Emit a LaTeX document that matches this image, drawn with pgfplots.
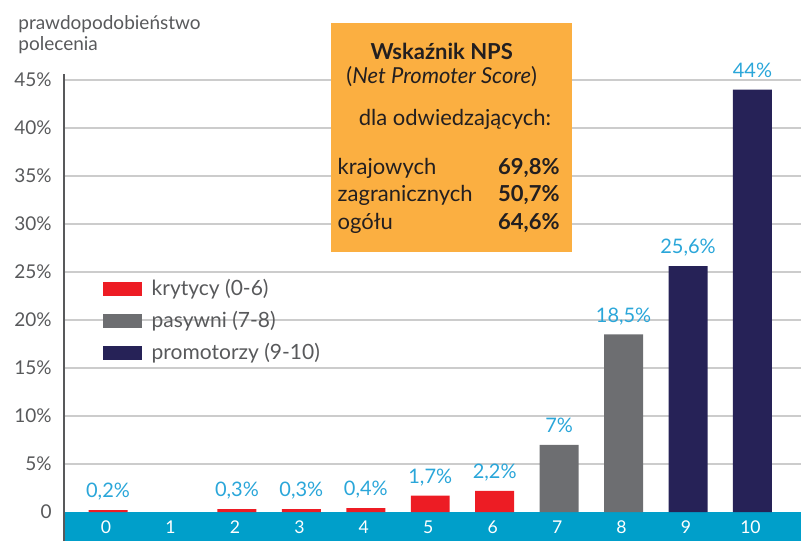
\documentclass[border=0pt]{standalone}
\usepackage{fontspec}
\setmainfont{Lato}
\usepackage{pgfplots}
\pgfplotsset{compat=1.18}
\definecolor{critred}{HTML}{ED1C24}
\definecolor{passgray}{HTML}{6D6E71}
\definecolor{promnavy}{HTML}{262257}
\definecolor{bandblue}{HTML}{009FCA}
\definecolor{labelblue}{HTML}{2AA6D9}
\definecolor{boxorange}{HTML}{FBAF41}
\definecolor{textgray}{HTML}{58595B}
\definecolor{gridgray}{HTML}{CCCCCC}
\definecolor{darktext}{HTML}{231F20}
\newcommand{\lstrut}{\rule[-3pt]{0pt}{11pt}}
\begin{document}
\begin{tikzpicture}
\path[use as bounding box] (0,0) rectangle (400.5pt,-270.5pt);
\fill[bandblue] (32pt,-270.5pt) rectangle (400.5pt,-256pt);
\begin{axis}[
  at={(32pt,-270.5pt)}, anchor=south west,
  scale only axis, width=368.5pt, height=233.5pt,
  xmin=-0.683, xmax=10.753, ymin=-3.021, ymax=45.625,
  ybar, bar width=0.605, bar shift=0pt,
  axis line style={draw=none},
  major tick length=0pt,
  ytick={5,10,...,45},
  yticklabels={5\%,10\%,15\%,20\%,25\%,30\%,35\%,40\%,45\%},
  extra y ticks={0}, extra y tick labels={0},
  extra y tick style={grid=none},
  ymajorgrids, grid style={draw=gridgray, line width=0.6pt},
  yticklabel style={font=\fontsize{9.5}{11}\selectfont, text=textgray, xshift=-2.7pt},
  xtick={0,1,2,3,4,5,6,7,8,9,10},
  xticklabels={0,1,2,3,4,5,6,7,8,9,10},
  xticklabel style={font=\fontsize{8.8}{10}\selectfont, text=white, anchor=center, yshift=6.75pt, xshift=-1pt},
  clip=false,
  nodes near coords,
  point meta=explicit symbolic,
  every node near coord/.append style={font=\fontsize{10}{12}\selectfont, text=labelblue, inner sep=0pt, text depth=0pt, yshift=6pt},
  every axis plot/.append style={legend image code/.code={\fill[#1] (0pt,-3.5pt) rectangle (19.5pt,3.5pt);}},
  legend style={draw=none, fill=none, at={(axis description cs:0.05292,0.5696)}, anchor=north west,
    inner sep=0pt, outer sep=0pt, font=\fontsize{10.5}{12}\selectfont, text=textgray,
    row sep=2.5pt, column sep=2.85pt},
  legend cell align=left,
]
\addplot[fill=critred, draw=none] coordinates {(0,0.2) [0,2\%] (2,0.3) [0,3\%] (3,0.3) [0,3\%] (4,0.4) [0,4\%] (5,1.7) [1,7\%] (6,2.2) [2,2\%]};
\addplot[fill=passgray, draw=none] coordinates {(7,7) [7\%] (8,18.5) [18,5\%]};
\addplot[fill=promnavy, draw=none] coordinates {(9,25.6) [25,6\%] (10,44) [44\%]};
\legend{\lstrut krytycy (0-6), \lstrut pasywni (7-8), \lstrut promotorzy (9-10)}
\end{axis}
\draw[textgray, line width=1.4pt] (32pt,-270.5pt) -- (32pt,-37pt);
\begin{scope}[x=0.5pt, y=-0.5pt]
\node[anchor=base west, font=\fontsize{9.5}{11}\selectfont, text=textgray, inner sep=0pt] at (18,29) {prawdopodobieństwo};
\node[anchor=base west, font=\fontsize{9.5}{11}\selectfont, text=textgray, inner sep=0pt] at (18,50) {polecenia};
\fill[boxorange] (331,22.7) rectangle (571.7,252.3);
\begin{scope}[every node/.style={inner sep=0pt, text=darktext, font=\fontsize{11}{13}\selectfont}]
\node[anchor=base, font=\bfseries\fontsize{11}{13}\selectfont] at (441.7,59) {Wskaźnik NPS};
\node[anchor=base] at (441.7,83.3) {(\textit{Net Promoter Score})};
\node[anchor=base] at (455,125) {dla odwiedzających:};
\node[anchor=base west] at (337.3,174) {krajowych};
\node[anchor=base west] at (337.3,201.7) {zagranicznych};
\node[anchor=base west] at (337.3,229.3) {ogółu};
\node[anchor=base east, font=\bfseries\fontsize{11}{13}\selectfont] at (560,174) {69,8\%};
\node[anchor=base east, font=\bfseries\fontsize{11}{13}\selectfont] at (560,201.7) {50,7\%};
\node[anchor=base east, font=\bfseries\fontsize{11}{13}\selectfont] at (560,229.3) {64,6\%};
\end{scope}
\end{scope}
\end{tikzpicture}
\end{document}
